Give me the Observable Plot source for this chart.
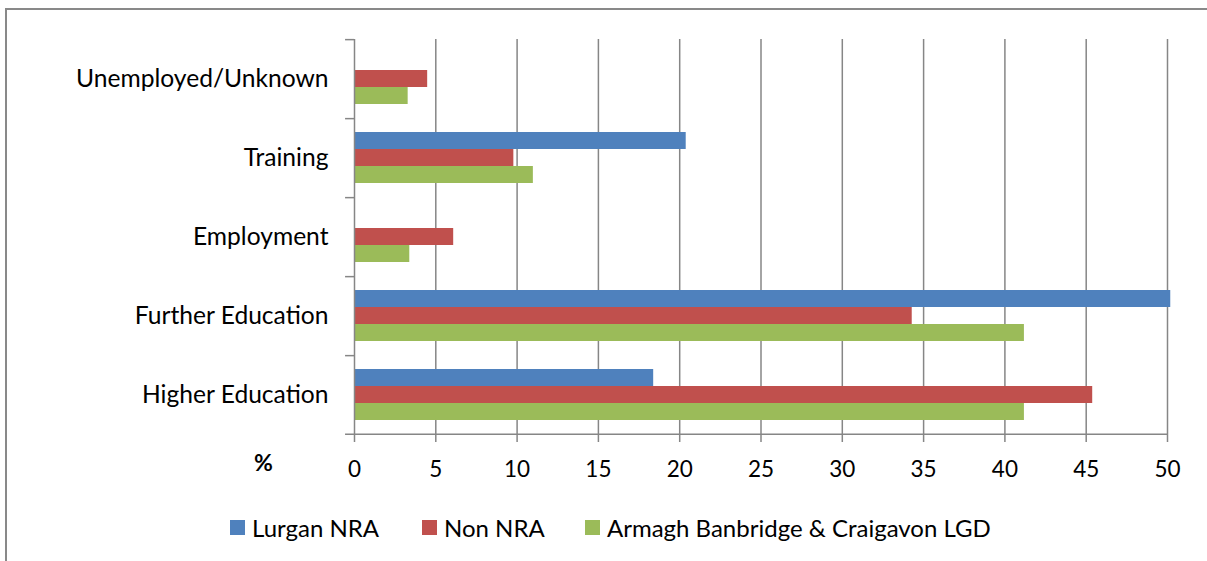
<!DOCTYPE html>
<html>
<head>
<meta charset="utf-8">
<script src="https://cdn.jsdelivr.net/npm/d3@7"></script>
<script src="https://cdn.jsdelivr.net/npm/@observablehq/plot@0.6"></script>
<style>
  html, body { margin: 0; padding: 0; background: #fff; }
  body { width: 1207px; height: 561px; position: relative; overflow: hidden; font-family: Lato, "Open Sans", sans-serif; }
  #frame { position: absolute; left: 5px; top: 8px; width: 1300px; height: 700px; border-left: 2px solid #898989; border-top: 2px solid #898989; }
  #chart { position: absolute; left: 0; top: 0; }
  #legend { position: absolute; left: 0; top: 513px; width: 1207px; height: 28px; font-size: 24px; color: #000; }
  .item { position: absolute; top: 0; display: flex; align-items: center; height: 28px; white-space: nowrap; }
  .sw { width: 15px; height: 15px; margin-right: 7px; }
  #pct { position: absolute; left: 254px; top: 448px; font-size: 23px; font-weight: bold; }
</style>
</head>
<body>
<div id="frame"></div>
<div id="chart"></div>
<div id="pct">%</div>
<div id="legend"></div>
<script>
const categories = ["Unemployed/Unknown", "Training", "Employment", "Further Education", "Higher Education"];
const seriesNames = ["Lurgan NRA", "Non NRA", "Armagh Banbridge & Craigavon LGD"];
const lurganNRA = [0, 20.4, 0, 50.2, 18.4];
const nonNRA = [4.5, 9.8, 6.1, 34.3, 45.4];
const armaghLGD = [3.3, 11.0, 3.4, 41.2, 41.2];
const seriesColors = ["#4f81bd", "#c0504d", "#9bbb59"];
const xTicks = [0, 5, 10, 15, 20, 25, 30, 35, 40, 45, 50];

const seriesValues = [lurganNRA, nonNRA, armaghLGD];
const rows = [];
categories.forEach((c, i) => seriesNames.forEach((s, j) => rows.push({category: c, series: s, value: seriesValues[j][i]})));

const W = 1207, H = 500;
const plotTop = 38, plotBottom = 435.5, plotLeft = 354, plotRight = 1167;
const padOuter = 0.787;
const facetH = (plotBottom - plotTop) / categories.length;
const step = facetH / (seriesNames.length + 2 * padOuter);
const edge = step * (0.5 + padOuter);
const gridColor = "#868686";

const chart = Plot.plot({
  width: W,
  height: H,
  marginTop: plotTop,
  marginBottom: H - plotBottom,
  marginLeft: plotLeft,
  marginRight: W - plotRight,
  style: {fontFamily: "Lato, 'Open Sans', sans-serif", fontSize: "24.6px", color: "#000", background: "transparent", overflow: "visible"},
  x: {domain: [0, 50], ticks: xTicks, axis: null},
  fy: {domain: categories, padding: 0, label: null, tickSize: 0, tickPadding: 26},
  y: {domain: seriesNames, paddingInner: 0, paddingOuter: padOuter, axis: null},
  color: {domain: seriesNames, range: seriesColors},
  marks: [
    Plot.ruleX(xTicks.slice(1), {stroke: gridColor, strokeWidth: 1.5}),
    Plot.barX(rows, {fy: "category", y: "series", x: "value", fill: "series"}),
    Plot.ruleX([0], {stroke: gridColor, strokeWidth: 1.5}),
    Plot.ruleY([seriesNames[0]], {y: d => d, x1: -0.55, x2: 0, dy: -edge, stroke: gridColor, strokeWidth: 1.5}),
    Plot.ruleY([{fy: categories[categories.length - 1], y: seriesNames[seriesNames.length - 1]}], {fy: "fy", y: "y", x1: -0.55, x2: 50, dy: edge, stroke: gridColor, strokeWidth: 1.5}),
    Plot.axisX(xTicks, {anchor: "bottom", tickSize: 8, tickPadding: 19, stroke: gridColor, strokeWidth: 1.5, fontSize: 22.5, label: null, tickFormat: d => String(d)})
  ]
});
document.getElementById("chart").appendChild(chart);

const legend = document.getElementById("legend");
const legendX = [230, 422, 585];
seriesNames.forEach((s, i) => {
  const it = document.createElement("div");
  it.className = "item";
  it.style.left = legendX[i] + "px";
  it.innerHTML = `<div class="sw" style="background:${seriesColors[i]}"></div><span>${s.replace("&", "&amp;")}</span>`;
  legend.appendChild(it);
});
</script>
</body>
</html>
